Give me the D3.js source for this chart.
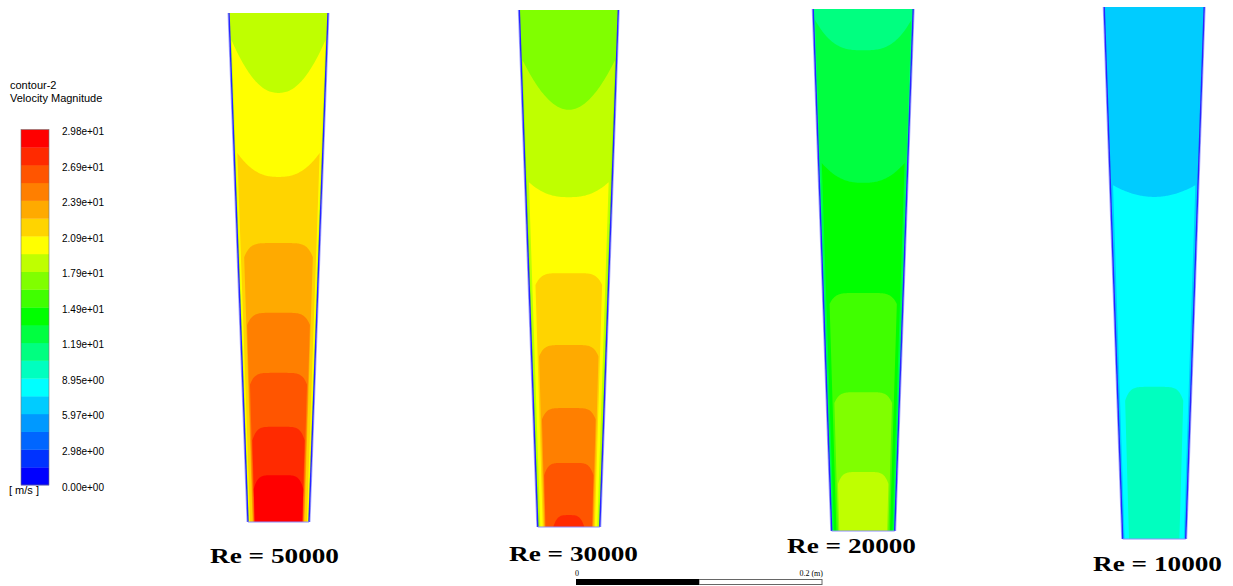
<!DOCTYPE html>
<head>
<meta charset="utf-8">
<script src="https://d3js.org/d3.v7.min.js"></script>
<style>
body { margin:0; background:#fff; }
svg { display:block; }
.legend text { font-family: "Liberation Sans", Arial, sans-serif; fill:#000; }
.case-label { font-family: "Liberation Serif", "Times New Roman", serif; font-weight:bold; font-size:22px; fill:#000; }
.scale-bar text { font: 8px "Liberation Serif", serif; fill:#000; }
</style>
</head>
<body>
<svg id="chart" width="1233" height="586"></svg>
<script>

// colour map of the contour, low -> high (20 bands)
var legendColors = ["#0000ff","#0033ff","#0066ff","#0099ff","#00ccff","#00ffff",
	"#00ffbf","#00ff80","#00ff40","#00ff00","#40ff00","#80ff00","#bfff00",
	"#ffff00","#ffd400","#ffaa00","#ff7f00","#ff5500","#ff2a00","#ff0000"];
var legendMax = 29.84;
var legendTickLabels = ["0.00e+00","2.98e+00","5.97e+00","8.95e+00","1.19e+01",
	"1.49e+01","1.79e+01","2.09e+01","2.39e+01","2.69e+01","2.98e+01"];

var caseNames = ["Re = 50000", "Re = 30000", "Re = 20000", "Re = 10000"];

// contour regions of each case, from inlet (top) to outlet (bottom)
// velocity magnitude of the region (m/s)
var bandVelocity = [
	[18.65, 20.14, 21.63, 23.13, 24.62, 26.11, 27.60, 29.10],
	[17.15, 18.65, 20.14, 21.63, 23.13, 24.62, 26.11, 27.60],
	[11.19, 12.68, 14.17, 15.67, 17.15, 18.65],
	[6.71, 8.21, 9.70]
];
// axial start of region on the centreline (z/L)
var bandStartAxis = [
	[0, 0.157, 0.322, 0.452, 0.589, 0.707, 0.813, 0.908],
	[0, 0.193, 0.362, 0.509, 0.648, 0.770, 0.876, 0.977],
	[0, 0.079, 0.333, 0.544, 0.734, 0.887],
	[0, 0.357, 0.714]
];
// axial start of region at its outer edge (z/L)
var bandStartEdge = [
	[0, 0.053, 0.275, 0.480, 0.613, 0.730, 0.840, 0.935],
	[0, 0.097, 0.333, 0.532, 0.670, 0.792, 0.900, 1.000],
	[0, 0.021, 0.295, 0.565, 0.755, 0.910],
	[0, 0.335, 0.740]
];
// radial extent of region (r/R)
var bandRadius = [
	[1, 0.97, 0.93, 0.85, 0.83, 0.80, 0.78, 0.78],
	[1, 0.97, 0.92, 0.84, 0.80, 0.77, 0.75, 0.50],
	[1, 0.97, 0.93, 0.85, 0.80, 0.76],
	[1, 0.94, 0.80]
];
// flatness of the region front (2 = bowl, higher = blunt core)
var bandFront = [
	[2, 2.2, 2.5, 6, 6, 6, 6, 6],
	[2, 2, 2.5, 6, 6, 6, 6, 4],
	[2, 3, 2.5, 6, 6, 6],
	[2, 2, 6]
];

var svg = d3.select("#chart");

var color = d3.scaleQuantize().domain([0, legendMax]).range(legendColors);

// ---- legend ----
var legend = svg.append("g").attr("class", "legend");

legend.append("text").attr("x", 10).attr("y", 89).attr("font-size", 11).text("contour-2");
legend.append("text").attr("x", 10).attr("y", 102).attr("font-size", 11).text("Velocity Magnitude");
legend.append("text").attr("x", 9).attr("y", 494).attr("font-size", 11).text("[ m/s ]");

var ly = d3.scaleLinear().domain([0, legendMax]).range([485, 129.5]);
var step = legendMax / legendColors.length;

legend.selectAll(".band")
	.data(legendColors)
	.enter().append("rect")
	.attr("class", "band")
	.attr("x", 21)
	.attr("width", 28)
	.attr("y", (d, i) => ly((i + 1) * step))
	.attr("height", (d, i) => ly(i * step) - ly((i + 1) * step) + 0.3)
	.attr("fill", d => d);

legend.append("rect")
	.attr("x", 21).attr("width", 28)
	.attr("y", ly(legendMax)).attr("height", ly(0) - ly(legendMax))
	.attr("fill", "none")
	.attr("stroke", "#777")
	.attr("stroke-width", 0.6);

legend.selectAll(".tick")
	.data(legendTickLabels)
	.enter().append("text")
	.attr("class", "tick")
	.attr("x", 62)
	.attr("y", (d, i) => ly(legendMax * i / 10) + 5.5)
	.attr("font-size", 10)
	.text(d => d);

// ---- channels ----
var panels = [
	{top: 13, bottom: 522, cx: 278.5, hwTop: 49.5, hwBot: 30.5, lx: 210, ly: 563},
	{top: 10, bottom: 527, cx: 568.8, hwTop: 49.5, hwBot: 31, lx: 509, ly: 561},
	{top: 9, bottom: 531, cx: 863.2, hwTop: 50, hwBot: 31.5, lx: 787, ly: 553},
	{top: 7, bottom: 539, cx: 1154.2, hwTop: 50, hwBot: 31.5, lx: 1093, ly: 571}
];

var shape = d3.line().curve(d3.curveLinearClosed);

panels.forEach(function(p, c) {

	var z = d3.scaleLinear().domain([0, 1]).range([p.top, p.bottom]);
	var hw = d3.scaleLinear().domain([0, 1]).range([p.hwTop, p.hwBot]);

	var g = svg.append("g").attr("class", "panel");

	var regions = bandVelocity[c].map(function(v, i) {
		return {
			v: v,
			zc: bandStartAxis[c][i],
			zw: bandStartEdge[c][i],
			rw: bandRadius[c][i],
			k: bandFront[c][i]
		};
	});

	function outline(d) {
		var pts = d3.range(-1, 1.0001, 0.025).map(function(t) {
			var zz = d.zc + (d.zw - d.zc) * Math.pow(Math.abs(t), d.k);
			return [p.cx + t * d.rw * hw(zz), z(zz)];
		});
		pts.push([p.cx + d.rw * hw(1), z(1)], [p.cx - d.rw * hw(1), z(1)]);
		return shape(pts);
	}

	g.selectAll(".region")
		.data(regions)
		.enter().append("path")
		.attr("class", "region")
		.attr("d", outline)
		.attr("fill", d => color(d.v));

	// walls
	[-1, 1].forEach(function(s) {
		g.append("line")
			.attr("x1", p.cx + s * (p.hwTop + 1)).attr("y1", z(0))
			.attr("x2", p.cx + s * (p.hwBot + 1)).attr("y2", z(1))
			.attr("stroke", "#a9a9ff").attr("stroke-width", 1);
		g.append("line")
			.attr("x1", p.cx + s * p.hwTop).attr("y1", z(0))
			.attr("x2", p.cx + s * p.hwBot).attr("y2", z(1))
			.attr("stroke", "#2626ff").attr("stroke-width", 1.4);
	});
	g.append("line")
		.attr("x1", p.cx - p.hwBot).attr("y1", z(1))
		.attr("x2", p.cx + p.hwBot).attr("y2", z(1))
		.attr("stroke", "#8c8cff").attr("stroke-width", 1);

	g.append("text")
		.attr("class", "case-label")
		.attr("x", p.lx)
		.attr("y", p.ly)
		.attr("textLength", 129)
		.attr("lengthAdjust", "spacingAndGlyphs")
		.text(caseNames[c]);
});

// ---- scale bar ----
var sx = d3.scaleLinear().domain([0, 0.2]).range([576, 822]);
var bar = svg.append("g").attr("class", "scale-bar");

bar.append("rect")
	.attr("x", sx(0.1)).attr("y", 579.5)
	.attr("width", sx(0.2) - sx(0.1)).attr("height", 5)
	.attr("fill", "#fff").attr("stroke", "#666").attr("stroke-width", 1);
bar.append("rect")
	.attr("x", sx(0)).attr("y", 579)
	.attr("width", sx(0.1) - sx(0)).attr("height", 6)
	.attr("fill", "#000");
bar.append("text").attr("x", sx(0) - 1).attr("y", 576).text("0");
bar.append("text").attr("x", sx(0.2) + 1).attr("y", 576)
	.attr("text-anchor", "end").text("0.2 (m)");

</script>
</body>
